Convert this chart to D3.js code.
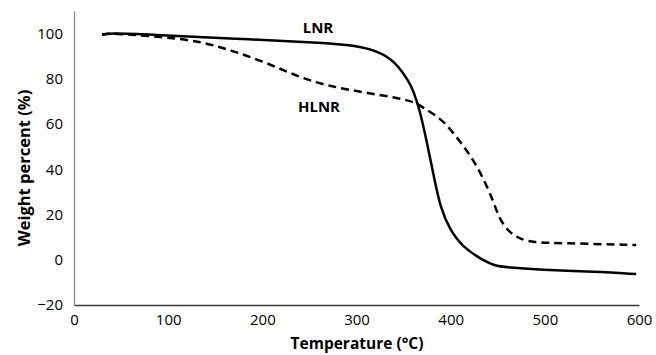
<!DOCTYPE html>
<html>
<head>
<meta charset="utf-8">
<script src="https://cdn.jsdelivr.net/npm/d3@7"></script>
<style>
  body { margin: 0; background: #fff; }
  svg text { font-family: "Open Sans", "Liberation Sans", sans-serif; fill: #000; }
</style>
</head>
<body>
<svg id="chart" width="656" height="355"></svg>
<script>
// values
const lnrTemp = [30, 38, 80, 169, 271, 300, 324, 342, 356, 360, 367, 374, 383, 389, 399, 413, 431, 447, 460, 495, 554, 597];
const lnrWeight = [99.5, 100.3, 99.6, 97.8, 95.8, 94.6, 92.1, 87.3, 78.5, 75.1, 66.5, 53.5, 35.0, 23.3, 13.2, 5.6, 0.6, -2.8, -3.3, -4.5, -5.3, -6.3];

const hlnrTemp = [30, 38, 91, 134, 169, 205, 240, 271, 307, 346, 364, 371, 389, 402, 413, 424, 434, 445, 452, 463, 474, 487, 518, 597];
const hlnrWeight = [99.5, 100.3, 98.6, 96.7, 92.3, 87.1, 80.5, 76.8, 74.0, 71.5, 69.3, 67.1, 62.7, 56.5, 50.7, 44.1, 36.6, 26.4, 17.6, 11.8, 9.2, 7.6, 7.4, 6.5];

const xTicks = [0, 100, 200, 300, 400, 500, 600];
const yTicks = [-20, 0, 20, 40, 60, 80, 100];

const svg = d3.select("#chart");

const x = d3.scaleLinear().domain([0, 600]).range([74, 639]);
const y = d3.scaleLinear().domain([-20, 110]).range([305, 11]);

// axes, no tick marks
const xAxis = svg.append("g")
    .attr("transform", "translate(0," + y(-20) + ")")
    .call(d3.axisBottom(x).tickValues(xTicks).tickSize(0).tickPadding(9));
xAxis.select(".domain").attr("stroke", "#3a3a3a").attr("stroke-width", 1.3);
xAxis.selectAll("text").attr("font-size", 15).attr("font-family", null);

const yAxis = svg.append("g")
    .attr("transform", "translate(" + x(0) + ",0)")
    .call(d3.axisLeft(y).tickValues(yTicks).tickSize(0).tickPadding(11));
yAxis.select(".domain").attr("stroke", "#8a8a8a").attr("stroke-width", 1.3);
yAxis.selectAll("text").attr("font-size", 15).attr("font-family", null);

function series(temps, weights) {
    return temps.map((t, i) => ({t: t, w: weights[i]}));
}

// b-spline smooths out small reading errors in the points
const line = d3.line()
    .x(d => x(d.t))
    .y(d => y(d.w))
    .curve(d3.curveBasis);

svg.append("path")
    .datum(series(lnrTemp, lnrWeight))
    .attr("d", line)
    .attr("fill", "none")
    .attr("stroke", "#000")
    .attr("stroke-width", 2.5);

svg.append("path")
    .datum(series(hlnrTemp, hlnrWeight))
    .attr("d", line)
    .attr("fill", "none")
    .attr("stroke", "#000")
    .attr("stroke-width", 2.5)
    .attr("stroke-dasharray", "8,5");

// series labels
svg.append("text")
    .attr("x", 318).attr("y", 33)
    .attr("text-anchor", "middle")
    .attr("font-size", 15).attr("font-weight", "bold")
    .text("LNR");

svg.append("text")
    .attr("x", 319).attr("y", 112)
    .attr("text-anchor", "middle")
    .attr("font-size", 15).attr("font-weight", "bold")
    .text("HLNR");

// axis titles
svg.append("text")
    .attr("x", 357).attr("y", 349)
    .attr("text-anchor", "middle")
    .attr("font-size", 15.5).attr("font-weight", "bold")
    .text("Temperature (°C)");

svg.append("text")
    .attr("transform", "translate(30,168) rotate(-90)")
    .attr("text-anchor", "middle")
    .attr("font-size", 16.5).attr("font-weight", "bold")
    .text("Weight percent (%)");
</script>
</body>
</html>
